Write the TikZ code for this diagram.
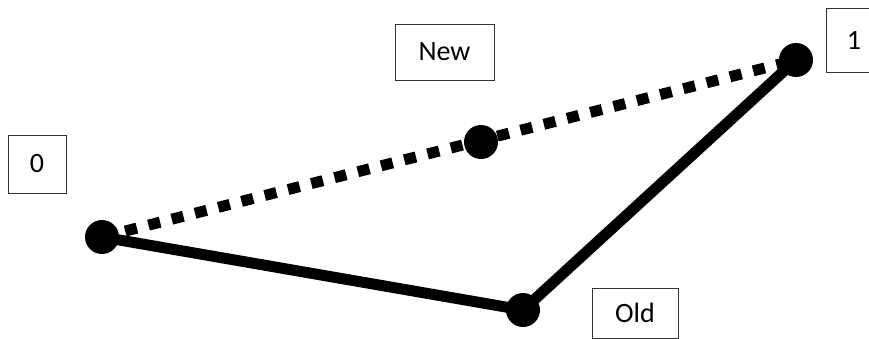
\documentclass[tikz,border=0pt]{standalone}
\usepackage{fontspec}
\setmainfont{Carlito}
\begin{document}
\begin{tikzpicture}[x=1pt,y=-1pt,
  lbl/.style={draw=black!80,line width=0.9pt,fill=white,font=\fontsize{28}{32}\selectfont,inner sep=0pt},
  dotn/.style={circle,fill=black,minimum size=34pt,inner sep=0pt},
  solidln/.style={line width=11pt},
  dotln/.style={line width=11pt,dash pattern=on 12pt off 12pt}]
\useasboundingbox (0,0) rectangle (869,339);
\clip (0,0) rectangle (869,339);
\node[lbl,minimum width=58pt,minimum height=58pt] (l0) at (37,164) {0};
\node[lbl,minimum width=99pt,minimum height=56pt] (lnew) at (444.5,52) {New};
\node[lbl,minimum width=86pt,minimum height=50pt] (lold) at (635,313) {Old};
\node[lbl,minimum width=56pt,minimum height=64pt] (l1) at (854,40) {1};
\coordinate (p0) at (102,237);
\coordinate (pm) at (481,142);
\coordinate (p1) at (796,60);
\coordinate (po) at (523,310);
\draw[dotln] (p0) -- (p1);
\draw[solidln,line join=round] (p0) -- (po) -- (p1);
\node[dotn] (d0) at (p0) {};
\node[dotn] (dm) at (pm) {};
\node[dotn] (d1) at (p1) {};
\node[dotn] (do) at (po) {};
\end{tikzpicture}
\end{document}
